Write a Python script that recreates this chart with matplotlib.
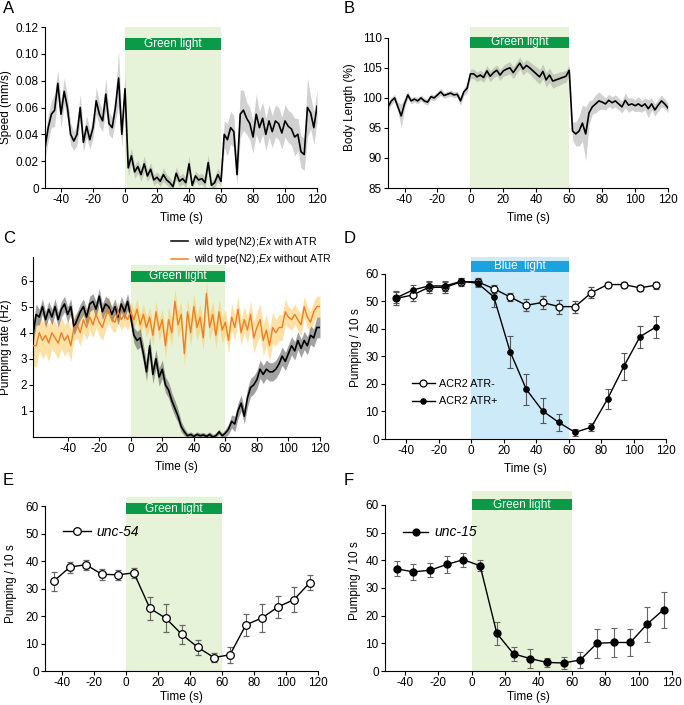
import numpy as np
import matplotlib
matplotlib.use('Agg')
import matplotlib.pyplot as plt
from matplotlib.patches import Rectangle
from matplotlib.lines import Line2D

plt.rcParams['font.family'] = ['Liberation Sans', 'DejaVu Sans']
plt.rcParams['mathtext.fontset'] = 'custom'
plt.rcParams['mathtext.it'] = 'Liberation Sans:italic'
plt.rcParams['mathtext.rm'] = 'Liberation Sans'
plt.rcParams['axes.unicode_minus'] = False
plt.rcParams['font.size'] = 8.5

# --- data: panel A (speed), B (body length), 2 s bins from -50 to 120 s ---
t_ab = np.arange(-50, 121, 2)
speed = ([0.030, 0.045, 0.055, 0.058, 0.078, 0.055, 0.072, 0.060, 0.040, 0.035, 0.040, 0.060, 0.034,
          0.046, 0.036, 0.045, 0.065, 0.055, 0.050, 0.070, 0.048, 0.045, 0.060, 0.082, 0.040, 0.074]
         + [0.015, 0.024, 0.012, 0.016, 0.010, 0.018, 0.009, 0.014, 0.006, 0.008, 0.005, 0.010, 0.006,
            0.004, 0.001, 0.011, 0.005, 0.007, 0.004, 0.018, 0.002, 0.009, 0.006, 0.007, 0.004, 0.019,
            0.002, 0.004, 0.010, 0.005]
         + [0.040, 0.036, 0.045, 0.042, 0.010, 0.055, 0.058, 0.052, 0.048, 0.038, 0.055, 0.045, 0.052,
            0.040, 0.050, 0.042, 0.050, 0.048, 0.041, 0.050, 0.046, 0.044, 0.038, 0.040, 0.027, 0.025,
            0.060, 0.056, 0.045, 0.061])
speed_sem = ([0.008, 0.010, 0.010, 0.012, 0.010, 0.010, 0.010, 0.009, 0.008, 0.007, 0.008, 0.010, 0.007,
              0.008, 0.007, 0.008, 0.010, 0.009, 0.008, 0.012, 0.008, 0.008, 0.010, 0.020, 0.010, 0.010]
             + [0.006, 0.006, 0.005, 0.005, 0.005, 0.006, 0.004, 0.005, 0.004, 0.004, 0.004, 0.005, 0.004,
                0.004, 0.003, 0.005, 0.004, 0.004, 0.004, 0.006, 0.003, 0.004, 0.004, 0.004, 0.004, 0.006,
                0.003, 0.004, 0.005, 0.004]
             + [0.010, 0.012, 0.012, 0.012, 0.008, 0.018, 0.015, 0.012, 0.012, 0.012, 0.015, 0.012, 0.012,
                0.012, 0.012, 0.012, 0.012, 0.012, 0.012, 0.012, 0.012, 0.012, 0.014, 0.012, 0.012, 0.012,
                0.022, 0.012, 0.012, 0.012])

body_len = ([98.5, 99.5, 100.0, 98.5, 97.0, 99.0, 100.5, 99.5, 99.8, 99.5, 100.0, 99.5, 99.3,
             100.2, 100.0, 100.5, 101.0, 100.4, 100.6, 100.8, 100.5, 100.6, 99.5, 101.0, 101.6, 104.0]
            + [104.0, 103.5, 103.8, 103.4, 104.5, 103.6, 104.2, 104.6, 103.8, 104.5, 104.8, 105.0, 104.2,
               105.0, 105.8, 104.8, 105.4, 105.0, 104.5, 104.0, 103.5, 104.4, 103.0, 103.8, 102.8, 103.0,
               103.2, 103.4, 103.6, 104.6]
            + [94.5, 94.0, 94.5, 95.8, 94.0, 97.5, 98.5, 99.0, 99.5, 99.3, 99.0, 99.6, 99.2, 99.5, 99.0,
               98.5, 99.6, 98.8, 99.0, 98.7, 99.0, 98.6, 99.0, 98.2, 99.0, 98.0, 98.8, 99.5, 99.0, 98.3])
body_sem = ([0.8, 0.6, 0.6, 0.8, 2.0, 0.8, 0.6, 0.5, 0.5, 0.5, 0.5, 0.5, 0.5, 0.5, 0.5, 0.5, 0.6,
             0.5, 0.5, 0.5, 0.5, 0.5, 0.8, 0.6, 0.8, 0.8]
            + [0.8, 0.8, 0.8, 0.8, 0.9, 0.9, 0.9, 0.9, 0.9, 0.9, 1.0, 1.0, 1.0, 1.0, 1.0, 1.0, 1.0, 1.0,
               1.1, 1.2, 1.2, 1.2, 1.2, 1.2, 1.2, 1.1, 1.1, 1.0, 1.0, 0.9]
            + [1.5, 2.0, 2.5, 3.0, 4.5, 2.0, 1.2, 1.5, 1.5, 1.2, 1.0, 1.0, 1.0, 1.0, 1.0, 1.0, 1.2, 1.2,
               1.0, 1.0, 1.2, 1.0, 1.0, 1.5, 1.0, 1.0, 1.0, 1.0, 0.8, 0.8])

# --- panel C: pumping rate, 2 s bins from -62 to 120 s ---
t_c = np.arange(-62, 121, 2)
pump_atr = ([3.9, 4.7, 4.6, 5.0, 4.5, 4.9, 4.6, 5.0, 4.5, 4.9, 5.1, 4.7, 5.0, 4.2, 4.5, 4.8, 5.0, 4.6,
             5.1, 5.2, 4.9, 5.4, 4.8, 5.1, 5.0, 4.7, 5.0, 4.6, 5.1, 4.8, 5.2, 4.6]
            + [3.9, 3.7, 3.8, 3.2, 2.5, 3.5, 2.4, 3.0, 2.3, 2.6, 2.0, 1.8, 1.4, 1.1, 0.8, 0.4, 0.2, 0.05,
               0.1, 0.02, 0.1, 0.05, 0.08, 0.02, 0.1, 0.0, 0.05, 0.2, 0.05, 0.15]
            + [0.3, 0.6, 0.5, 1.0, 1.3, 0.8, 1.5, 1.9, 2.0, 2.2, 2.6, 2.4, 2.6, 2.5, 2.5, 2.6, 2.8, 3.1,
               2.9, 3.2, 3.5, 3.3, 3.7, 3.4, 3.7, 3.5, 3.9, 3.8, 4.2, 4.2])
pump_atr_sem = ([0.4, 0.4] + [0.3] * 30
                + [0.3, 0.35, 0.35, 0.35, 0.35, 0.35, 0.35, 0.35, 0.35, 0.35, 0.3, 0.3, 0.3, 0.3, 0.25,
                   0.2, 0.15, 0.1, 0.1, 0.1, 0.1, 0.1, 0.1, 0.1, 0.1, 0.1, 0.1, 0.1, 0.1, 0.15]
                + [0.2, 0.25, 0.3, 0.3, 0.3, 0.3] + [0.35] * 22 + [0.4, 0.4])
pump_noatr = ([3.5, 3.5, 4.0, 3.7, 3.9, 3.6, 4.0, 3.8, 3.6, 4.0, 3.7, 3.9, 3.5, 4.2, 4.3, 4.0, 4.5, 4.2,
               4.6, 4.3, 4.7, 4.4, 4.2, 4.6, 4.9, 4.5, 4.4, 4.8, 4.5, 4.7, 4.5, 4.8]
              + [4.5, 4.9, 4.3, 4.7, 4.2, 4.6, 3.9, 4.8, 4.1, 4.5, 3.5, 4.5, 4.0, 5.2, 4.3, 4.7, 3.2, 4.8,
                 4.0, 5.0, 4.2, 4.6, 3.8, 5.5, 4.2, 4.7, 3.9, 4.8, 4.1, 4.4]
              + [3.7, 4.6, 4.2, 4.9, 4.0, 4.5, 4.1, 4.7, 3.8, 4.2, 4.5, 3.7, 4.1, 3.5, 4.2, 4.0, 4.2, 4.2,
                 4.8, 4.6, 4.5, 4.7, 4.5, 4.3, 5.0, 4.6, 4.4, 4.8, 5.0, 5.0])
pump_noatr_sem = ([0.8, 0.8, 0.7, 0.7, 0.7, 0.7, 0.6, 0.6, 0.6, 0.6, 0.6, 0.6, 0.6, 0.5, 0.5, 0.5, 0.5,
                   0.5, 0.5, 0.5, 0.5, 0.5, 0.5, 0.5, 0.5, 0.4, 0.4, 0.4, 0.4, 0.4, 0.4, 0.4]
                  + [0.4] * 10 + [0.5] * 20
                  + [0.5] * 8 + [0.6] * 7 + [0.5] * 4 + [0.4] * 11)

# --- panel D: ACR2, 10 s bins ---
t_d = np.arange(-46, 115, 10)
acr2_minus = [51.0, 52.2, 55.0, 55.0, 57.0, 57.0, 54.5, 51.5, 48.5, 49.5, 48.0, 48.0, 53.0, 56.0, 56.0, 54.8, 55.8]
acr2_minus_err = [2.5, 2.0, 2.0, 2.0, 1.5, 1.5, 1.5, 1.5, 2.2, 2.2, 2.5, 2.2, 2.0, 1.0, 1.0, 1.2, 1.3]
acr2_plus = [51.2, 54.0, 55.5, 55.5, 57.2, 56.5, 51.5, 31.7, 18.0, 10.2, 6.0, 2.4, 4.3, 14.5, 26.3, 37.1, 40.7]
acr2_plus_err = [2.0, 2.0, 1.7, 1.7, 1.2, 1.5, 3.5, 5.8, 5.6, 4.5, 3.2, 1.4, 1.5, 3.8, 4.9, 4.0, 4.0]

# --- panels E, F ---
t_ef = np.arange(-45, 116, 10)
unc54 = [32.7, 37.8, 38.7, 35.2, 35.0, 35.7, 22.8, 19.2, 13.3, 8.6, 4.9, 5.9, 16.8, 19.3, 23.3, 26.0, 32.2]
unc54_err = [3.5, 2.0, 1.8, 2.0, 1.8, 1.8, 4.2, 5.0, 3.5, 2.8, 1.5, 3.0, 4.0, 5.0, 4.0, 4.5, 2.8]
unc15 = [36.9, 35.8, 36.4, 38.5, 40.2, 38.0, 13.6, 6.2, 4.5, 3.1, 2.9, 4.0, 10.0, 10.3, 10.3, 16.9, 22.2]
unc15_err = [2.7, 3.0, 2.5, 3.0, 2.5, 2.0, 4.2, 2.5, 3.5, 1.5, 2.0, 3.0, 5.2, 5.3, 5.0, 6.3, 6.5]

ticks_x = [-40, -20, 0, 20, 40, 60, 80, 100, 120]
green_shade = '#e7f3d8'
green_bar = '#0b9a48'
blue_shade = '#cdeaf8'
blue_bar = '#1aa3df'
FS = 8.5


def style(ax, xlim, ylim, ytop, yticks, ylabel, ylab_x, yfmt=None, xpad=4):
    ax.set_xlim(*xlim)
    ax.set_ylim(*ylim)
    for s in ['top', 'right']:
        ax.spines[s].set_visible(False)
    ax.spines['left'].set_bounds(ylim[0], ytop)
    ax.spines['bottom'].set_bounds(xlim[0], 120)
    ax.set_xticks(ticks_x)
    ax.set_yticks(yticks)
    if yfmt:
        ax.set_yticklabels(yfmt)
    ax.tick_params(direction='out', length=3, width=0.8, labelsize=FS, pad=1.5)
    ax.set_xlabel('Time (s)', fontsize=FS, labelpad=xpad)
    ax.set_ylabel(ylabel, fontsize=FS, va='center')
    ax.yaxis.set_label_coords(ylab_x, 0.5)


def light(ax, y0, y1, label, shade, bar):
    ax.axvspan(0, 60, ymin=0, ymax=1, color=shade, zorder=0, lw=0)
    ax.add_patch(Rectangle((0, y0), 60, y1 - y0, color=bar, zorder=5, lw=0))
    ax.text(30, (y0 + y1) / 2, label, color='white', ha='center', va='center',
            fontsize=FS, zorder=6)


def marker_handle(filled, ms):
    return Line2D([], [], color='black', lw=1.0, marker='o', ms=ms,
                  mfc='black' if filled else 'white', mec='black', mew=0.9)


fig = plt.figure(figsize=(6.84, 7.05), dpi=100)

# A
axA = fig.add_axes([0.0658, 0.7333, 0.3977, 0.2284])
light(axA, 0.1025, 0.112, 'Green light', green_shade, green_bar)
sp, se = np.array(speed), np.array(speed_sem)
axA.fill_between(t_ab, np.clip(sp - se, 0, None), sp + se, color='#9a9a9a', alpha=0.45, lw=0, zorder=2)
axA.plot(t_ab, sp, color='black', lw=1.2, zorder=3)
style(axA, (-50, 120), (0, 0.12), 0.12, [0, 0.02, 0.04, 0.06, 0.08, 0.10, 0.12], 'Speed (mm/s)',
      -0.145, ['0', '0.02', '0.04', '0.06', '0.08', '0.10', '0.12'])

# B
axB = fig.add_axes([0.5673, 0.7333, 0.4094, 0.2284])
light(axB, 108.3, 110.2, 'Green light', green_shade, green_bar)
bl, be = np.array(body_len), np.array(body_sem)
axB.fill_between(t_ab, bl - be, bl + be, color='#9a9a9a', alpha=0.45, lw=0, zorder=2)
axB.plot(t_ab, bl, color='black', lw=1.2, zorder=3)
style(axB, (-50, 120), (85, 111.8), 110, [85, 90, 95, 100, 105, 110], 'Body Length (%)', -0.136)

# C
axC = fig.add_axes([0.0482, 0.3801, 0.4196, 0.2553])
light(axC, 5.96, 6.35, 'Green light', green_shade, green_bar)
axC.set_ylim(0, 6.9)
axC.axvspan(0, 60, ymin=6.6 / 6.9, ymax=1, color='white', zorder=1, lw=0)
pn, pne = np.array(pump_noatr), np.array(pump_noatr_sem)
pa, pae = np.array(pump_atr), np.array(pump_atr_sem)
axC.fill_between(t_c, pn - pne, pn + pne, color='#ffc95c', alpha=0.55, lw=0, zorder=2)
axC.fill_between(t_c, np.clip(pa - pae, 0, None), pa + pae, color='#555555', alpha=0.55, lw=0, zorder=2)
axC.plot(t_c, pa, color='black', lw=1.2, zorder=3)
axC.plot(t_c, pn, color='#ef7f23', lw=1.0, zorder=4)
style(axC, (-62, 120), (0, 6.9), 6.9, [1, 2, 3, 4, 5, 6], 'Pumping rate (Hz)', -0.094)
handles = [Line2D([], [], color='black', lw=1.1), Line2D([], [], color='#ef7f23', lw=1.1)]
fig.legend(handles, [r'wild type(N2);$\mathit{Ex}$ with ATR', r'wild type(N2);$\mathit{Ex}$ without ATR'],
           loc='upper left', bbox_to_anchor=(0.243, 0.6745), frameon=False, fontsize=7.6,
           handlelength=1.6, handletextpad=0.5, labelspacing=0.35, borderpad=0)

# D
axD = fig.add_axes([0.5629, 0.3773, 0.4108, 0.2582])
axD.axvspan(0, 60, color=blue_shade, zorder=0, lw=0)
axD.add_patch(Rectangle((0, 60.7), 60, 4.0, color=blue_bar, zorder=5, lw=0))
axD.text(30, 62.7, 'Blue  light', color='white', ha='center', va='center', fontsize=FS, zorder=6)
axD.errorbar(t_d, acr2_minus, yerr=acr2_minus_err, color='black', lw=1.0, marker='o', ms=5,
             mfc='white', mec='black', mew=0.9, ecolor='#555555', elinewidth=0.8, capsize=2,
             capthick=0.8, zorder=4)
axD.errorbar(t_d, acr2_plus, yerr=acr2_plus_err, color='black', lw=1.0, marker='o', ms=3.8,
             mfc='black', mec='black', ecolor='#555555', elinewidth=0.8, capsize=2, capthick=0.8,
             zorder=4)
style(axD, (-53, 120), (0, 66), 60, [0, 10, 20, 30, 40, 50, 60], 'Pumping / 10 s', -0.103)
axD.legend([marker_handle(False, 5), marker_handle(True, 3.8)], ['ACR2 ATR-', 'ACR2 ATR+'],
           loc='upper left', bbox_to_anchor=(0.075, 0.36), frameon=False, fontsize=7.8,
           handlelength=2.2, handletextpad=0.3, labelspacing=0.7, borderpad=0)

# E
axE = fig.add_axes([0.0658, 0.0482, 0.3991, 0.2468])
light(axE, 57.0, 61.0, 'Green light', green_shade, green_bar)
axE.errorbar(t_ef, unc54, yerr=unc54_err, color='black', lw=1.0, marker='o', ms=5.5, mfc='white',
             mec='black', mew=0.9, ecolor='#666666', elinewidth=0.8, capsize=2, capthick=0.8,
             zorder=4)
style(axE, (-50.5, 120), (0, 63.3), 60, [0, 10, 20, 30, 40, 50, 60], 'Pumping / 10 s', -0.125, xpad=1)
axE.legend([marker_handle(False, 5.5)], ['unc-54'], loc='center left', bbox_to_anchor=(0.04, 0.8),
           frameon=False, prop={'style': 'italic', 'size': 10}, handlelength=2.0,
           handletextpad=0.4, borderpad=0)

# F
axF = fig.add_axes([0.5629, 0.0482, 0.4196, 0.2553])
light(axF, 58.0, 62.0, 'Green light', green_shade, green_bar)
axF.errorbar(t_ef, unc15, yerr=unc15_err, color='black', lw=1.0, marker='o', ms=5, mfc='black',
             mec='black', ecolor='#666666', elinewidth=0.8, capsize=2, capthick=0.8,
             zorder=4)
style(axF, (-52, 120), (0, 65), 60, [0, 10, 20, 30, 40, 50, 60], 'Pumping / 10 s', -0.106, xpad=1)
axF.legend([marker_handle(True, 5)], ['unc-15'], loc='center left', bbox_to_anchor=(0.04, 0.77),
           frameon=False, prop={'style': 'italic', 'size': 10}, handlelength=1.8,
           handletextpad=0.4, borderpad=0)

# panel letters
for lab, x, y in [('A', 0.004, 0.998), ('B', 0.503, 0.998), ('C', 0.004, 0.672),
                  ('D', 0.503, 0.672), ('E', 0.004, 0.329), ('F', 0.503, 0.329)]:
    fig.text(x, y, lab, fontsize=12, ha='left', va='top')

fig.savefig('out.png', dpi=100)
